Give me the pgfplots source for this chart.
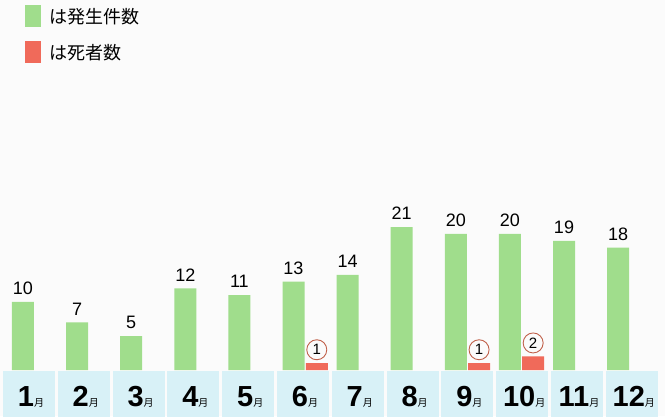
\documentclass[border=0pt]{standalone}
\usepackage{pgfplots}
\pgfplotsset{compat=1.18}
\usepackage{fontspec}
\setmainfont{Liberation Sans}
\newfontfamily\jp{Noto Sans CJK JP}
\definecolor{bargreen}{HTML}{A0DD8C}
\definecolor{barred}{HTML}{F06A5A}
\definecolor{cellblue}{HTML}{D8F1F7}
\definecolor{circ}{HTML}{C0604A}
\definecolor{bg}{HTML}{FBFBFB}
\begin{document}
\begin{tikzpicture}
\begin{axis}[
    scale only axis,
    width=665pt, height=416pt,
    xmin=0.5749, xmax=12.867,
    ymin=-6.765, ymax=54.41,
    axis line style={draw=none},
    xtick=\empty, ytick=\empty,
    axis background/.style={fill=bg},
    /pgf/number format/assume math mode=true,
    legend image code/.code={\fill[#1] (0pt,-11pt) rectangle (16pt,11pt);},
    legend style={at={(axis description cs:0.0376,0.988)}, anchor=north west,
        draw=none, fill=none, inner sep=0pt, row sep=14pt, column sep=8pt,
        font=\jp\fontsize{18}{18}\selectfont, nodes={inner sep=0pt, anchor=west}},
]
% 発生件数
\addplot[ybar, bar width=22pt, bar shift=0pt, fill=bargreen, draw=none,
    nodes near coords,
    every node near coord/.style={font=\fontsize{18}{18}\selectfont, inner sep=0pt, anchor=south, yshift=7pt, text=black}]
  coordinates {
    (1,10) (2,7) (3,5) (4,12) (5,11) (6,13)
    (7,14) (8,21) (9,20) (10,20) (11,19) (12,18)
  };
\addlegendentry{は発生件数}
% 死者数
\addplot[ybar, bar width=22pt, bar shift=0pt, fill=barred, draw=none,
    nodes near coords,
    every node near coord/.style={circle, draw=circ, line width=0.9pt, minimum size=20pt, inner sep=0pt,
        font=\fontsize{15}{15}\selectfont, anchor=south, yshift=3pt, text=black}]
  coordinates {
    (6.43,1) (9.43,1) (10.43,2)
  };
\addlegendentry{は死者数}
% month cells
\pgfplotsinvokeforeach{1,...,12}{
  \fill[cellblue] (axis cs:{1+(6+(#1-1)*54.8)/54.1-0.4806},-0.147) rectangle (axis cs:{1+(6+(#1-1)*54.8)/54.1+0.4806},-7);
  \node[anchor=base, inner sep=0pt] at (axis cs:{1+(8+(#1-1)*54.8)/54.1},-5.44)
    {{\fontsize{29}{29}\selectfont\bfseries #1}{\jp\fontsize{10}{10}\selectfont 月}};
}
\end{axis}
\end{tikzpicture}
\end{document}
